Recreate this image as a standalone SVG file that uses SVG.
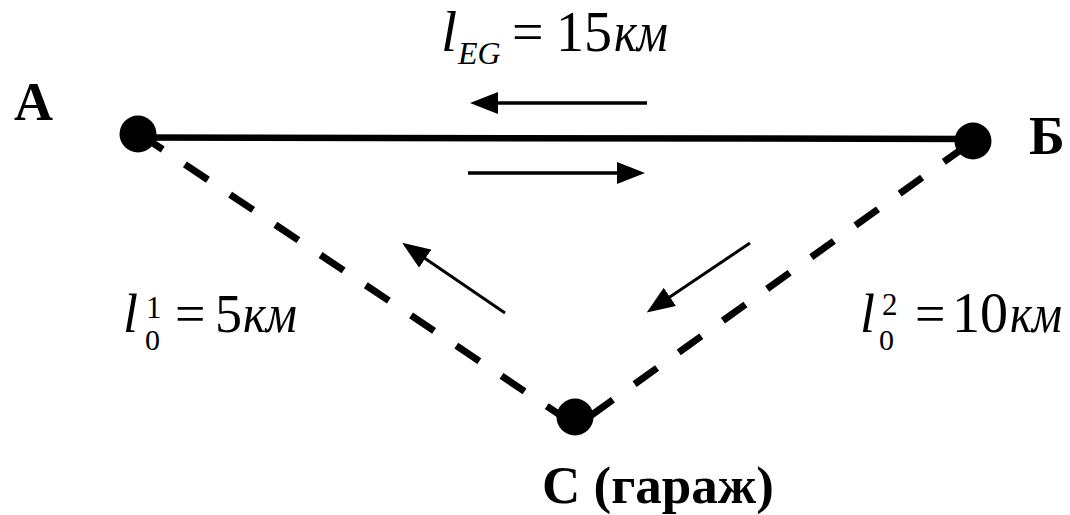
<svg xmlns="http://www.w3.org/2000/svg" width="1070" height="515" viewBox="0 0 1070 515">
<style>
text{font-family:'Liberation Serif','Times New Roman',serif;fill:#000}
.b{font-weight:bold}
.i{font-style:italic}
.dash{stroke:#000;stroke-width:7;fill:none;stroke-dasharray:27.7 26.7}
.arr{stroke:#000;fill:none}
</style>
<defs>
<marker id="ah" viewBox="0 0 28 22" refX="14" refY="11" markerWidth="28" markerHeight="22" markerUnits="userSpaceOnUse" orient="auto">
<path d="M0,0 L28,11 L0,22 Z" fill="#000"/>
</marker>
</defs>
<rect width="1070" height="515" fill="#fff"/>
<g id="connectors">
<line x1="138" y1="137.5" x2="973" y2="139" stroke="#000" stroke-width="6.5"/>
<line class="dash" x1="138" y1="133" x2="575" y2="425" stroke-dashoffset="-2"/>
<line class="dash" x1="575" y1="427" x2="973" y2="141" stroke-dashoffset="-19"/>
<line class="arr" stroke-width="3.5" x1="647" y1="103" x2="484" y2="103" marker-end="url(#ah)"/>
<line class="arr" stroke-width="3.5" x1="468" y1="173" x2="631" y2="173" marker-end="url(#ah)"/>
<line class="arr" stroke-width="3" x1="505" y1="313" x2="413.7" y2="250.7" marker-end="url(#ah)"/>
<line class="arr" stroke-width="3" x1="750" y1="243" x2="658.3" y2="304.7" marker-end="url(#ah)"/>
</g>
<g id="nodeA">
<circle cx="138" cy="134" r="18.5" fill="#000"/>
<text class="b" x="14" y="120" font-size="54">А</text>
</g>
<g id="nodeB">
<circle cx="973" cy="141" r="18.5" fill="#000"/>
<text class="b" x="1029" y="154" font-size="54">Б</text>
</g>
<g id="nodeC">
<circle cx="575" cy="417" r="18.5" fill="#000"/>
<text class="b" x="542" y="503" font-size="53">С (гараж)</text>
</g>
<g id="labels">
<text font-size="56" y="51"><tspan class="i" x="441" font-size="58">l</tspan><tspan class="i" x="458" y="64" font-size="32">EG</tspan><tspan x="512" y="51">=</tspan><tspan x="556">15</tspan><tspan class="i" x="614" textLength="54" lengthAdjust="spacingAndGlyphs">км</tspan></text>
<text font-size="54" y="332"><tspan class="i" x="123">l</tspan><tspan x="146" y="318" font-size="31">1</tspan><tspan x="145" y="350" font-size="30">0</tspan><tspan x="175" y="332">=</tspan><tspan x="215">5</tspan><tspan class="i" x="243" textLength="54" lengthAdjust="spacingAndGlyphs">км</tspan></text>
<text font-size="54" y="332"><tspan class="i" x="860">l</tspan><tspan x="882" y="315" font-size="31">2</tspan><tspan x="879" y="350" font-size="30">0</tspan><tspan x="915" y="332">=</tspan><tspan x="952" font-size="56">10</tspan><tspan class="i" x="1010" textLength="52" lengthAdjust="spacingAndGlyphs">км</tspan></text>
</g>
</svg>
